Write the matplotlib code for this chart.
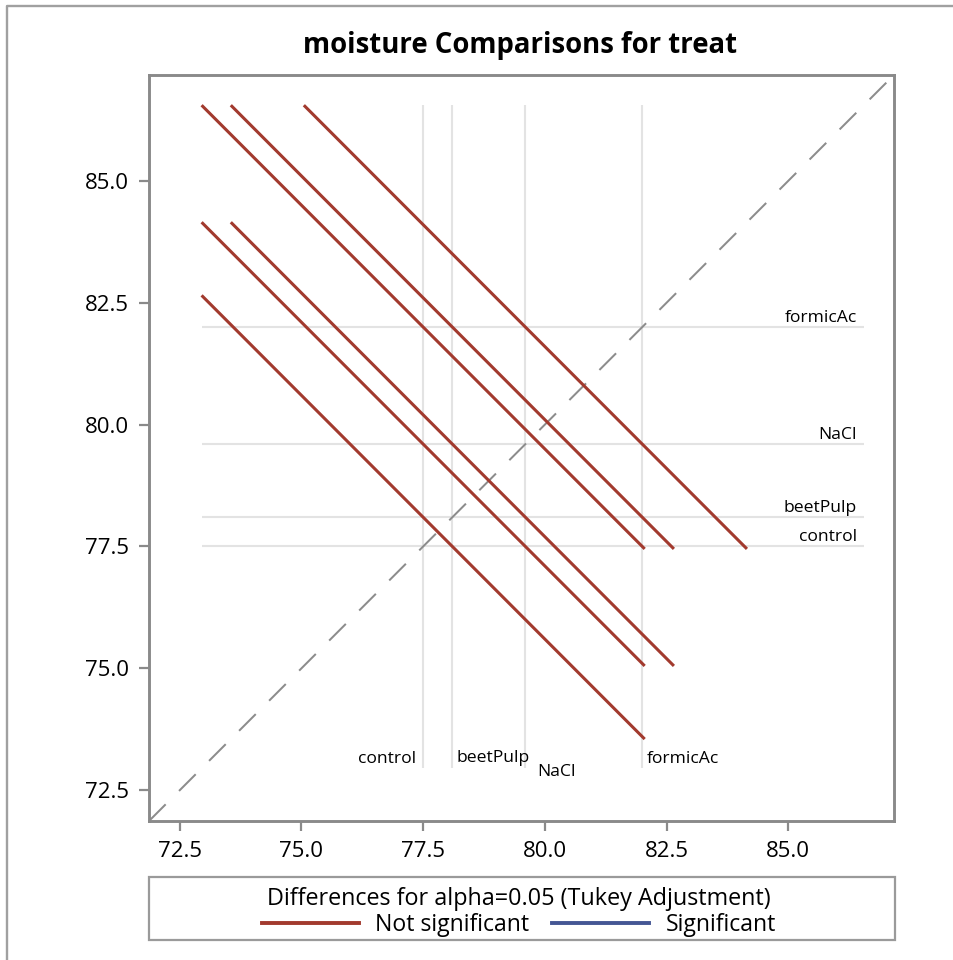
import matplotlib
matplotlib.use('Agg')
import matplotlib.pyplot as plt
from matplotlib.lines import Line2D
from matplotlib.patches import Rectangle

plt.rcParams['font.family'] = ['Open Sans', 'DejaVu Sans']

# LS-means of moisture per treatment level
levels = ['control', 'beetPulp', 'NaCl', 'formicAc']
means = [77.5, 78.1, 79.6, 82.0]

# pairwise comparisons (index into levels) and half-extent of each diffogram segment
pairs = [(0, 1), (0, 2), (0, 3), (1, 2), (1, 3), (2, 3)]
half = [4.55, 4.55, 4.55, 4.55, 4.55, 4.55]
significant = [False, False, False, False, False, False]

ticks = [72.5, 75.0, 77.5, 80.0, 82.5, 85.0]
lims = (71.87, 87.17)

RED = '#A23A2E'
BLUE = '#445694'
FRAME = '#8a8a8a'
REF = '#e3e3e3'

fig = plt.figure(figsize=(9.54, 9.60), dpi=100)
ax = fig.add_axes([0.1562, 0.1448, 0.7809, 0.7771])

lo = min(means) - max(half)
hi = max(means) + max(half)

# reference lines at each mean
for m in means:
    ax.plot([m, m], [lo, hi], color=REF, lw=1.5, zorder=1, solid_capstyle='butt')
    ax.plot([lo, hi], [m, m], color=REF, lw=1.5, zorder=1, solid_capstyle='butt')

# diagonal y = x
ax.axline((lims[0], lims[0]), slope=1, color='#8c8c8c', lw=1.45,
          dashes=(11.7, 9.4), zorder=2)

# one segment per pair
for (i, j), h, sig in zip(pairs, half, significant):
    ax.plot([means[i] - h, means[i] + h], [means[j] + h, means[j] - h],
            color=BLUE if sig else RED, lw=2.2, zorder=3, solid_capstyle='butt')

# level labels on the horizontal reference lines
for name, m in zip(levels, means):
    ax.annotate(name, (hi, m), xytext=(-5, 3.6), textcoords='offset points',
                ha='right', va='baseline', fontsize=12.6)

# level labels at the foot of the vertical reference lines
bottom_pos = {'control': (-5, 3.6, 'right'), 'beetPulp': (3, 4.3, 'left'),
              'NaCl': (8.5, -5.8, 'left'), 'formicAc': (3.6, 3.6, 'left')}
for name, m in zip(levels, means):
    dx, dy, ha = bottom_pos[name]
    ax.annotate(name, (m, lo), xytext=(dx, dy), textcoords='offset points',
                ha=ha, va='baseline', fontsize=12.6)

ax.set_xlim(*lims)
ax.set_ylim(*lims)
ax.set_xticks(ticks)
ax.set_yticks(ticks)
ax.set_xticklabels([f'{t:.1f}' for t in ticks])
ax.set_yticklabels([f'{t:.1f}' for t in ticks])
ax.tick_params(length=7.5, width=1.6, color=FRAME, labelsize=16, pad=7)
for s in ax.spines.values():
    s.set_color(FRAME)
    s.set_linewidth(2.1)

fig.text(0.545, 0.953, 'moisture Comparisons for treat', ha='center', va='center',
         fontsize=19.8, fontweight='bold')

# legend box under the plot
fig.add_artist(Rectangle((0.1562, 0.0208), 0.7819, 0.0657, transform=fig.transFigure,
                         fill=False, edgecolor='#9a9a9a', lw=1.6))
handles = [Line2D([], [], color=RED, lw=2.8), Line2D([], [], color=BLUE, lw=2.8)]
fig.legend(handles, ['Not significant', 'Significant'], ncol=2, loc='center',
           bbox_to_anchor=(0.544, 0.050), frameon=False, fontsize=16.6,
           title='Differences for alpha=0.05 (Tukey Adjustment)', title_fontsize=16.8,
           handlelength=4.2, handletextpad=0.7, columnspacing=1.0,
           labelspacing=0.1, borderpad=0, borderaxespad=0)

# outer border
fig.add_artist(Line2D([0.0073, 0.0073, 1.01], [-0.01, 0.99375, 0.99375],
                      transform=fig.transFigure, color='#a0a0a0', lw=1.7))

fig.savefig('out.png', dpi=100)
